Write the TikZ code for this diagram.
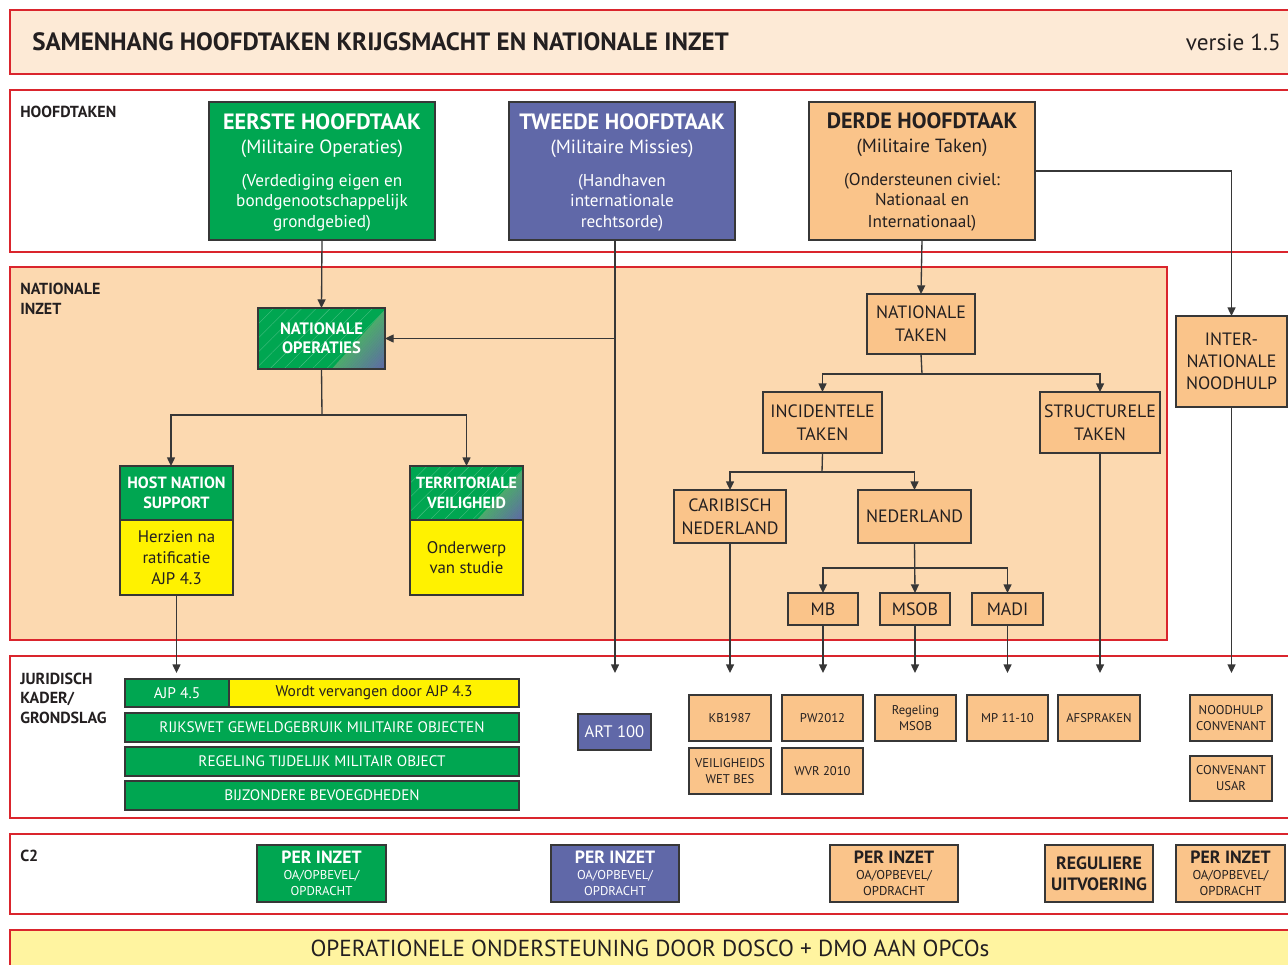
\documentclass[tikz,border=0pt]{standalone}
\usepackage{fontspec}
\setmainfont{PT Sans}
\usetikzlibrary{arrows.meta,patterns.meta,calc}
\definecolor{rd}{RGB}{218,37,45}
\definecolor{titlebg}{RGB}{253,234,214}
\definecolor{natbg}{RGB}{252,217,176}
\definecolor{org}{RGB}{250,196,138}
\definecolor{grn}{RGB}{0,166,81}
\definecolor{grnl}{RGB}{78,172,108}
\definecolor{blu}{RGB}{96,104,168}
\definecolor{ylw}{RGB}{255,242,0}
\definecolor{botbg}{RGB}{255,244,160}
\definecolor{edge}{RGB}{55,55,55}
\definecolor{txt}{RGB}{35,31,32}
\newcommand{\fs}[2]{\fontsize{#1}{#2}\selectfont}
\newcommand{\bx}[7]{%
  \pgfmathsetmacro{\bxX}{(#2+#4)/2}%
  \pgfmathsetmacro{\bxY}{(#3+#5)/2}%
  \pgfmathsetmacro{\bxW}{(#4-#2)*0.75}%
  \pgfmathsetmacro{\bxH}{(#5-#3)*0.75}%
  \node[bx,#6,minimum width=\bxW pt,minimum height=\bxH pt] (#1) at (\bxX,\bxY) {#7};}
% hatch + gradient background: x1 y1 x2 y2 (box), gx (bottom start of diagonal), gy (right end of diagonal)
\newcommand{\hatchgrad}[6]{%
  \fill[grn] (#1,#2) rectangle (#3,#4);
  \fill[pattern={Lines[angle=45,distance=7.5pt,line width=0.3pt]}, pattern color=grn!72!white] (#1,#2) rectangle (#3,#4);
  \foreach \gi in {0,...,19}{
    \pgfmathsetmacro{\gta}{\gi/20}\pgfmathsetmacro{\gtb}{(\gi+1)/20}\pgfmathsetmacro{\gpc}{\gi*5+2.5}
    \fill[blu!\gpc!grnl, draw=blu!\gpc!grnl, line width=0.2pt]
      ($(#5,#4)!\gta!(#3,#4)$) -- ($(#5,#4)!\gtb!(#3,#4)$) -- ($(#3,#6)!\gtb!(#3,#4)$) -- ($(#3,#6)!\gta!(#3,#4)$) -- cycle;
  }}
\begin{document}
\begin{tikzpicture}[x=0.75pt,y=-0.75pt,
  band/.style={draw=rd, line width=2.2pt},
  bx/.style={draw=edge, line width=1pt, inner sep=0pt, outer sep=0pt, align=center, text=txt},
  arr/.style={draw=edge, line width=1pt, -{Triangle[length=6.5pt,width=6pt]}},
  ln/.style={draw=edge, line width=1pt},
  lbl/.style={anchor=west, font=\bfseries\fs{12}{14.6}, text=txt, align=left, inner sep=0pt},
  tw/.style={anchor=base, inner sep=0pt, text=white},
  tk/.style={anchor=base, inner sep=0pt, text=txt}]
\useasboundingbox (0,0) rectangle (1288,964);
\fill[white] (0,0) rectangle (1288,964);
\clip (0,0) rectangle (1288,964);

% ---- bands
\filldraw[band, fill=titlebg] (10,10) rectangle (1300,74);
\filldraw[band, fill=white] (10,90) rectangle (1300,252);
\filldraw[band, fill=natbg] (10,267) rectangle (1167,640);
\filldraw[band, fill=white] (10,656) rectangle (1300,818);
\filldraw[band, fill=white] (10,834) rectangle (1300,914);
\filldraw[band, fill=botbg] (10,930) rectangle (1300,990);

\node[anchor=west, inner sep=0pt, text=txt, font=\bfseries\fs{18.8}{22}] (title) at (32,42) {SAMENHANG HOOFDTAKEN KRIJGSMACHT EN NATIONALE INZET};
\node[anchor=east, inner sep=0pt, text=txt, font=\fs{17.4}{20}] (versie) at (1281,42) {versie 1.5};

\node[lbl] (l1) at (20,112) {HOOFDTAKEN};
\node[lbl] (l2) at (20,299) {NATIONALE\\INZET};
\node[lbl] (l3) at (20,698) {JURIDISCH\\KADER/\\GRONDSLAG};
\node[lbl] (l4) at (20,856) {C2};
\node[inner sep=0pt, text=txt, font=\fs{17.4}{20}] (bot) at (650,948) {OPERATIONELE ONDERSTEUNING DOOR DOSCO + DMO AAN OPCOs};

% ---- hoofdtaken
\bx{eerste}{209}{102}{435}{240}{fill=grn}{}
\node[tw, font=\bfseries\fs{16.6}{18}] at (322,129) {EERSTE HOOFDTAAK};
\node[tw, font=\fs{14.3}{16}] at (322,153) {(Militaire Operaties)};
\node[tw, font=\fs{12.9}{14}] at (322,186) {(Verdediging eigen en};
\node[tw, font=\fs{12.9}{14}] at (322,206) {bondgenootschappelijk};
\node[tw, font=\fs{12.9}{14}] at (322,227) {grondgebied)};

\bx{tweede}{509}{102}{735}{240}{fill=blu}{}
\node[tw, font=\bfseries\fs{16.6}{18}] at (622,129) {TWEEDE HOOFDTAAK};
\node[tw, font=\fs{14.3}{16}] at (622,153) {(Militaire Missies)};
\node[tw, font=\fs{12.9}{14}] at (622,186) {(Handhaven};
\node[tw, font=\fs{12.9}{14}] at (622,206) {internationale};
\node[tw, font=\fs{12.9}{14}] at (622,227) {rechtsorde)};

\bx{derde}{809}{102}{1035}{240}{fill=org}{}
\node[tk, font=\bfseries\fs{16.6}{18}] at (922,128) {DERDE HOOFDTAAK};
\node[tk, font=\fs{14.3}{16}] at (922,152) {(Militaire Taken)};
\node[tk, font=\fs{12.9}{14}] at (922,185) {(Ondersteunen civiel:};
\node[tk, font=\fs{12.9}{14}] at (922,205) {Nationaal en};
\node[tk, font=\fs{12.9}{14}] at (922,227) {Internationaal)};

% ---- nationale inzet (left)
\hatchgrad{258}{308}{385}{369}{332}{310}
\bx{natop}{258}{308}{385}{369}{text=white,font=\bfseries\fs{12.4}{14.5}}{NATIONALE\\OPERATIES}

\bx{hnst}{120}{466}{233}{520}{fill=grn,text=white,font=\bfseries\fs{12.2}{15}}{HOST NATION\\SUPPORT}
\bx{hnsb}{120}{520}{233}{595}{fill=ylw,font=\fs{12.6}{15.5}}{Herzien na\\ratificatie\\AJP 4.3}
\hatchgrad{410}{466}{523}{520}{477}{470}
\bx{tvt}{410}{466}{523}{520}{text=white,font=\bfseries\fs{12}{15}}{TERRITORIALE\\VEILIGHEID}
\bx{tvb}{410}{520}{523}{595}{fill=ylw,font=\fs{12.6}{15.5}}{Onderwerp\\van studie}

% ---- nationale inzet (right)
\bx{nattak}{867}{294}{975}{354}{fill=org,font=\fs{13.4}{17}}{NATIONALE\\TAKEN}
\bx{inc}{763}{392}{882}{453}{fill=org,font=\fs{13.4}{17}}{INCIDENTELE\\TAKEN}
\bx{str}{1040}{392}{1160}{453}{fill=org,font=\fs{13.4}{17}}{STRUCTURELE\\TAKEN}
\bx{car}{674}{490}{786}{543}{fill=org,font=\fs{13.4}{17}}{CARIBISCH\\NEDERLAND}
\bx{ned}{858}{490}{971}{543}{fill=org,font=\fs{13.4}{17}}{NEDERLAND}
\bx{mb}{788}{593}{858}{625}{fill=org,font=\fs{13.4}{17}}{MB}
\bx{msob}{880}{593}{950}{625}{fill=org,font=\fs{13.4}{17}}{MSOB}
\bx{madi}{972}{593}{1043}{625}{fill=org,font=\fs{13.4}{17}}{MADI}
\bx{inh}{1176}{316}{1287}{407}{fill=org,font=\fs{13.4}{16.5}}{INTER-\\NATIONALE\\NOODHULP}

% ---- juridisch kader
\bx{ajp}{125}{679}{229}{707}{fill=grn,text=white,font=\fs{11.6}{13}}{AJP 4.5}
\bx{wordt}{229}{679}{519}{707}{fill=ylw,font=\fs{11.6}{13}}{Wordt vervangen door AJP 4.3}
\bx{rijks}{125}{713}{519}{742}{fill=grn,text=white,font=\fs{11.4}{13}}{RIJKSWET GEWELDGEBRUIK MILITAIRE OBJECTEN}
\bx{regtmo}{125}{747}{519}{776}{fill=grn,text=white,font=\fs{11.4}{13}}{REGELING TIJDELIJK MILITAIR OBJECT}
\bx{bijz}{125}{781}{519}{810}{fill=grn,text=white,font=\fs{11.4}{13}}{BIJZONDERE BEVOEGDHEDEN}
\bx{art}{578}{714}{651}{750}{fill=blu,text=white,font=\fs{12.5}{15}}{ART 100}
\bx{kb}{689}{695}{771}{741}{fill=org,font=\fs{9.5}{12}}{KB1987}
\bx{pw}{782}{695}{863}{741}{fill=org,font=\fs{9.5}{12}}{PW2012}
\bx{regmsob}{875}{695}{956}{741}{fill=org,font=\fs{9.5}{12}}{Regeling\\MSOB}
\bx{mp}{967}{695}{1048}{741}{fill=org,font=\fs{9.5}{12}}{MP 11-10}
\bx{afs}{1058}{695}{1140}{741}{fill=org,font=\fs{9.5}{12}}{AFSPRAKEN}
\bx{vwb}{689}{748}{771}{794}{fill=org,font=\fs{9.5}{12}}{VEILIGHEIDS\\WET BES}
\bx{wvr}{782}{748}{863}{794}{fill=org,font=\fs{9.5}{12}}{WVR 2010}
\bx{nhc}{1190}{695}{1272}{741}{fill=org,font=\fs{9.5}{12}}{NOODHULP\\CONVENANT}
\bx{cusar}{1190}{756}{1272}{801}{fill=org,font=\fs{9.5}{12}}{CONVENANT\\USAR}

% ---- C2
\bx{c2a}{257}{845}{386}{902}{fill=grn}{}
\node[tw, font=\bfseries\fs{13.3}{14}] at (321.5,863) {PER INZET};
\node[tw, font=\fs{9.6}{10}] at (321.5,879) {OA/OPBEVEL/};
\node[tw, font=\fs{9.6}{10}] at (321.5,895) {OPDRACHT};
\bx{c2b}{551}{845}{679}{902}{fill=blu}{}
\node[tw, font=\bfseries\fs{13.3}{14}] at (615,863) {PER INZET};
\node[tw, font=\fs{9.6}{10}] at (615,879) {OA/OPBEVEL/};
\node[tw, font=\fs{9.6}{10}] at (615,895) {OPDRACHT};
\bx{c2c}{830}{845}{958}{902}{fill=org}{}
\node[tk, font=\bfseries\fs{13.3}{14}] at (894,863) {PER INZET};
\node[tk, font=\fs{9.6}{10}] at (894,879) {OA/OPBEVEL/};
\node[tk, font=\fs{9.6}{10}] at (894,895) {OPDRACHT};
\bx{c2d}{1045}{845}{1153}{902}{fill=org,font=\bfseries\fs{13.4}{16}}{REGULIERE\\UITVOERING}
\bx{c2e}{1176}{845}{1285}{902}{fill=org}{}
\node[tk, font=\bfseries\fs{13.3}{14}] at (1230.5,863) {PER INZET};
\node[tk, font=\fs{9.6}{10}] at (1230.5,879) {OA/OPBEVEL/};
\node[tk, font=\fs{9.6}{10}] at (1230.5,895) {OPDRACHT};

% ---- connectors
\coordinate (jur) at (0,673);
\coordinate (artin) at (615,673);
\coordinate (hnsin) at (171,466);
\coordinate (j1) at (322,415);
\coordinate (j2) at (922,374);
\coordinate (j3) at (822,472);
\coordinate (j4) at (915,568);

\draw[arr] (eerste.south) -- (natop.north);
\draw[arr] (tweede.south -| artin) -- (artin);
\draw[arr] (artin |- natop.east) -- (natop.east);
\draw[arr] (derde.south) -- (nattak.north);
\draw[arr] (derde.east) -| (inh.north);

\draw[ln] (natop.south) -- (j1);
\draw[arr] (j1) -| (hnsin);
\draw[arr] (j1) -| (tvt.north);
\draw[arr] (hnsb.south) -- (hnsb.south |- jur);

\draw[ln] (nattak.south) -- (j2);
\draw[arr] (j2) -| (inc.north);
\draw[arr] (j2) -| (str.north);
\draw[ln] (inc.south) -- (j3);
\draw[arr] (j3) -| (car.north);
\draw[arr] (j3) -| (ned.north);
\draw[arr] (ned.south) -- (msob.north);
\draw[arr] (j4) -| (mb.north);
\draw[arr] (j4) -| (madi.north);

\draw[arr] (car.south) -- (car.south |- jur);
\draw[arr] (mb.south) -- (mb.south |- jur);
\draw[arr] (msob.south) -- (msob.south |- jur);
\draw[arr] (madi.south) -- (madi.south |- jur);
\draw[arr] (str.south) -- (str.south |- jur);
\draw[arr] (inh.south) -- (inh.south |- jur);
\end{tikzpicture}
\end{document}
